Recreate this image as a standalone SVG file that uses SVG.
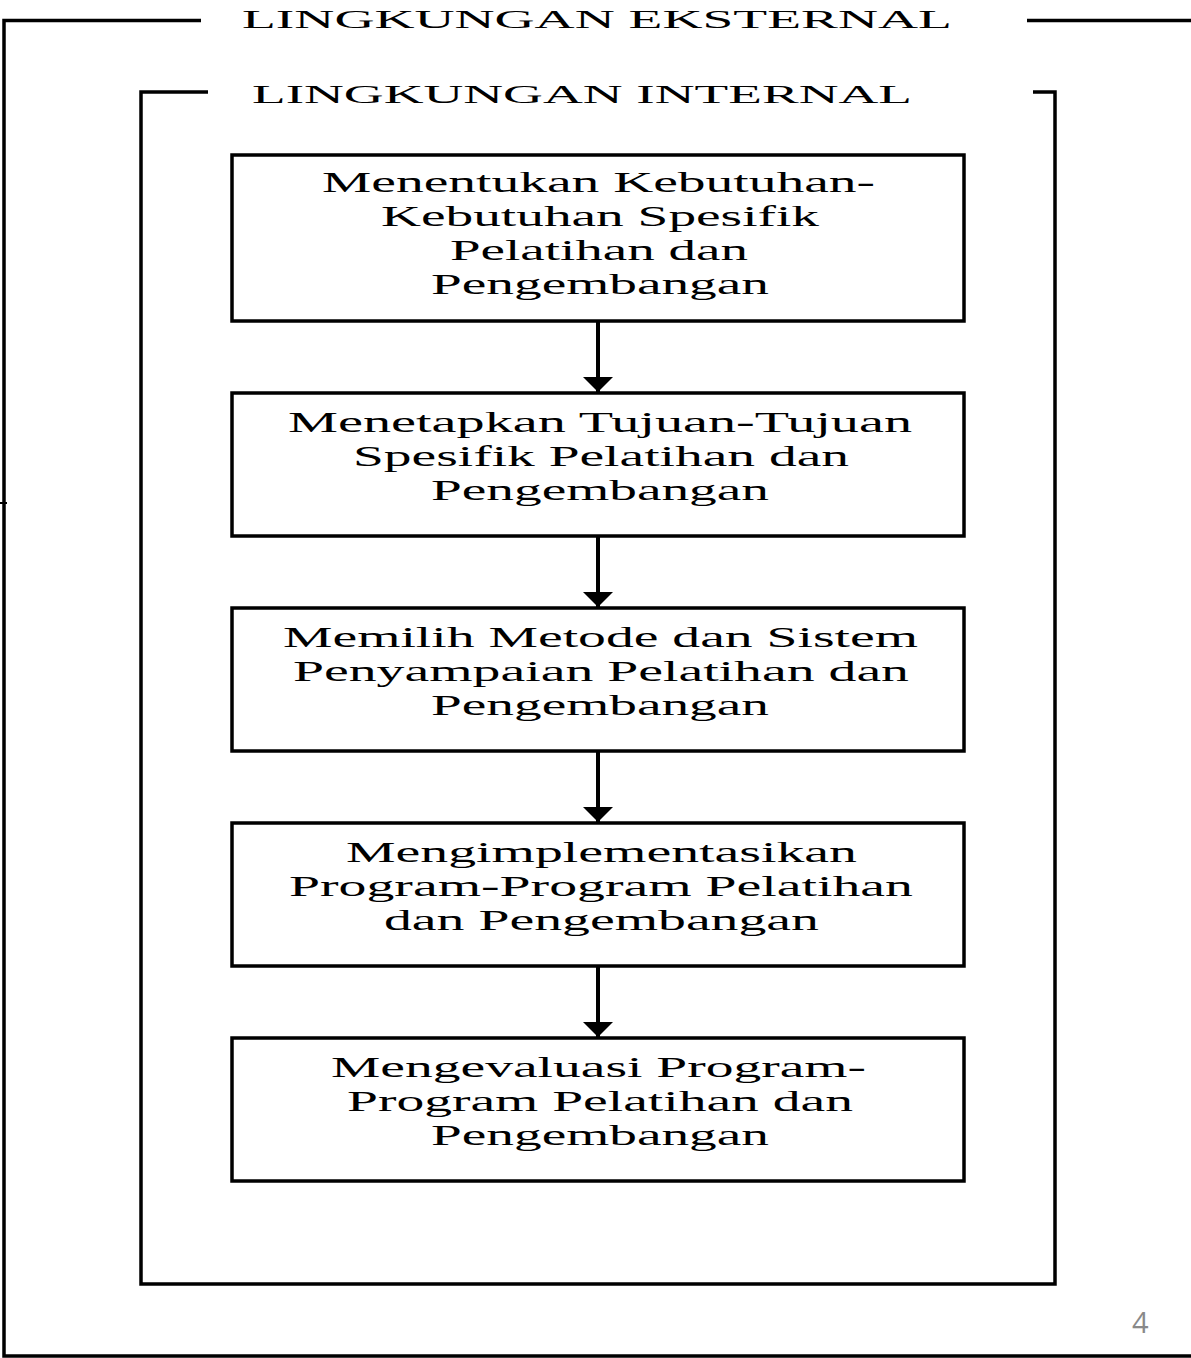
<svg xmlns="http://www.w3.org/2000/svg" width="1191" height="1358" viewBox="0 0 1191 1358">
<defs>
<style>
.frame{fill:none;stroke:#000;stroke-width:3.5}
.box{fill:#fff;stroke:#000;stroke-width:3.5}
.t{font-family:"Liberation Serif","Times New Roman",serif;font-size:30px;fill:#000;text-anchor:middle}
.h{font-family:"Liberation Serif","Times New Roman",serif;font-size:26px;fill:#000;text-anchor:start}
.conn{stroke:#000;stroke-width:4;fill:none}
.pg{font-family:"Open Sans","Liberation Sans",sans-serif;font-size:29px;fill:#898989}
</style>
<marker id="ah" markerUnits="userSpaceOnUse" markerWidth="15" markerHeight="30" refX="15" refY="15" orient="auto" viewBox="0 0 15 30">
<path d="M0,0 L15,15 L0,30 Z" fill="#000"/>
</marker>
</defs>
<rect width="1191" height="1358" fill="#fff"/>
<g id="outer-frame">
<path class="frame" d="M201,20.5 H4 V1356 H1191"/>
<path class="frame" d="M1027,20.5 H1191"/>
<path d="M0,503 H7" stroke="#000" stroke-width="2"/>
<text class="h" x="242" y="28" textLength="710" lengthAdjust="spacingAndGlyphs">LINGKUNGAN EKSTERNAL</text>
</g>
<g id="inner-frame">
<path class="frame" d="M208,92 H141 V1284 H1055 V92 H1033"/>
<text class="h" x="252" y="103" textLength="660" lengthAdjust="spacingAndGlyphs">LINGKUNGAN INTERNAL</text>
</g>
<g id="connectors">
<path class="conn" d="M598,321 V392" marker-end="url(#ah)"/>
<path class="conn" d="M598,536 V607" marker-end="url(#ah)"/>
<path class="conn" d="M598,751 V822" marker-end="url(#ah)"/>
<path class="conn" d="M598,966 V1037" marker-end="url(#ah)"/>
</g>
<g id="node1">
<rect class="box" x="232" y="155" width="732" height="166"/>
<text class="t" x="598.5" y="192" textLength="553" lengthAdjust="spacingAndGlyphs">Menentukan Kebutuhan-</text>
<text class="t" x="600" y="226" textLength="438" lengthAdjust="spacingAndGlyphs">Kebutuhan Spesifik</text>
<text class="t" x="599" y="260" textLength="298" lengthAdjust="spacingAndGlyphs">Pelatihan dan</text>
<text class="t" x="600" y="294" textLength="338" lengthAdjust="spacingAndGlyphs">Pengembangan</text>
</g>
<g id="node2">
<rect class="box" x="232" y="393" width="732" height="143"/>
<text class="t" x="600" y="432" textLength="624" lengthAdjust="spacingAndGlyphs">Menetapkan Tujuan-Tujuan</text>
<text class="t" x="601" y="466" textLength="496" lengthAdjust="spacingAndGlyphs">Spesifik Pelatihan dan</text>
<text class="t" x="600" y="500" textLength="338" lengthAdjust="spacingAndGlyphs">Pengembangan</text>
</g>
<g id="node3">
<rect class="box" x="232" y="608" width="732" height="143"/>
<text class="t" x="600.5" y="647" textLength="635" lengthAdjust="spacingAndGlyphs">Memilih Metode dan Sistem</text>
<text class="t" x="601" y="681" textLength="616" lengthAdjust="spacingAndGlyphs">Penyampaian Pelatihan dan</text>
<text class="t" x="600" y="715" textLength="338" lengthAdjust="spacingAndGlyphs">Pengembangan</text>
</g>
<g id="node4">
<rect class="box" x="232" y="823" width="732" height="143"/>
<text class="t" x="601.5" y="862" textLength="511" lengthAdjust="spacingAndGlyphs">Mengimplementasikan</text>
<text class="t" x="601" y="896" textLength="624" lengthAdjust="spacingAndGlyphs">Program-Program Pelatihan</text>
<text class="t" x="601.5" y="930" textLength="435" lengthAdjust="spacingAndGlyphs">dan Pengembangan</text>
</g>
<g id="node5">
<rect class="box" x="232" y="1038" width="732" height="143"/>
<text class="t" x="598.5" y="1077" textLength="535" lengthAdjust="spacingAndGlyphs">Mengevaluasi Program-</text>
<text class="t" x="600" y="1111" textLength="506" lengthAdjust="spacingAndGlyphs">Program Pelatihan dan</text>
<text class="t" x="600" y="1145" textLength="338" lengthAdjust="spacingAndGlyphs">Pengembangan</text>
</g>
<text class="pg" x="1132" y="1333">4</text>
</svg>
